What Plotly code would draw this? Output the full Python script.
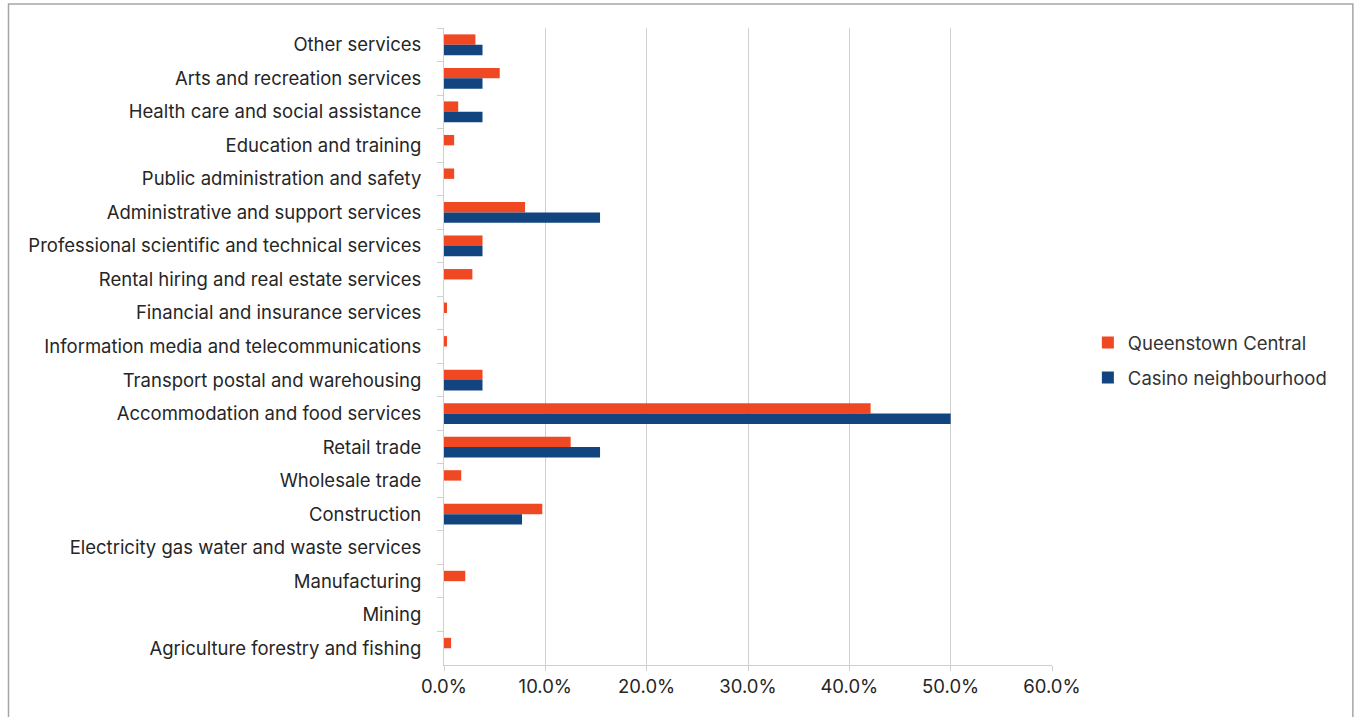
import plotly.graph_objects as go

# Industry categories, listed top to bottom as displayed
categories = [
    "Other services",
    "Arts and recreation services",
    "Health care and social assistance",
    "Education and training",
    "Public administration and safety",
    "Administrative and support services",
    "Professional scientific and technical services",
    "Rental hiring and real estate services",
    "Financial and insurance services",
    "Information media and telecommunications",
    "Transport postal and warehousing",
    "Accommodation and food services",
    "Retail trade",
    "Wholesale trade",
    "Construction",
    "Electricity gas water and waste services",
    "Manufacturing",
    "Mining",
    "Agriculture forestry and fishing",
]

# Share of businesses (%) by industry
queenstown_central = [3.1, 5.5, 1.4, 1.0, 1.0, 8.0, 3.8, 2.8, 0.3, 0.3, 3.8, 42.1, 12.5, 1.7, 9.7, 0.0, 2.1, 0.0, 0.7]
casino_neighbourhood = [3.8, 3.8, 3.8, 0.0, 0.0, 15.4, 3.8, 0.0, 0.0, 0.0, 3.8, 50.0, 15.4, 0.0, 7.7, 0.0, 0.0, 0.0, 0.0]

x_ticks = [0, 10, 20, 30, 40, 50, 60]

RED = "#EF4823"
BLUE = "#12457F"
GRID = "#CFCFCF"
TEXT = "#262626"
FONT = "Inter"
FS = 18.5

fig = go.Figure()
fig.add_trace(go.Bar(
    y=categories, x=queenstown_central, orientation="h",
    name="Queenstown Central", legendgroup="qc",
    marker=dict(color=RED, line=dict(width=0)),
))
fig.add_trace(go.Bar(
    y=categories, x=casino_neighbourhood, orientation="h",
    name="Casino neighbourhood", legendgroup="cn",
    marker=dict(color=BLUE, line=dict(width=0)),
))

L, R, T, B = 443.7, 304, 28, 52
W, H = 1356, 717
pw, ph = W - L - R, H - T - B

fig.update_layout(
    width=W, height=H,
    margin=dict(l=L, r=R, t=T, b=B),
    barmode="group", bargap=0.38, bargroupgap=0,
    plot_bgcolor="white", paper_bgcolor="white",
    font=dict(family=FONT, size=FS, color=TEXT),
    showlegend=True,
    legend=dict(
        x=1.059, y=0.478, xanchor="left", yanchor="middle",
        font=dict(family=FONT, size=FS, color="#333333"),
        itemwidth=30, tracegroupgap=8,
    ),
    xaxis=dict(
        range=[0, 60], tickvals=x_ticks,
        ticktext=[f"{v:.1f}%" for v in x_ticks],
        showgrid=True, gridcolor=GRID, gridwidth=1,
        showline=True, linecolor=GRID, linewidth=1,
        ticks="outside", ticklen=5, tickcolor=GRID,
        zeroline=False, tickfont=dict(size=FS, color=TEXT),
    ),
    yaxis=dict(
        type="category", autorange="reversed",
        showline=True, linecolor=GRID, linewidth=1,
        ticks="outside", ticklen=6, tickcolor=GRID, tickson="boundaries",
        showgrid=False, tickfont=dict(size=FS, color=TEXT),
        ticklabelstandoff=18,
    ),
    shapes=[dict(
        type="rect", xref="paper", yref="paper",
        x0=(8 - L) / pw, x1=(1353 - L) / pw,
        y0=-0.2, y1=(H - B - 4) / ph,
        line=dict(color="#A6A6A6", width=1.5), fillcolor="rgba(0,0,0,0)",
        layer="below",
    )],
)

fig.write_html("out.html")
